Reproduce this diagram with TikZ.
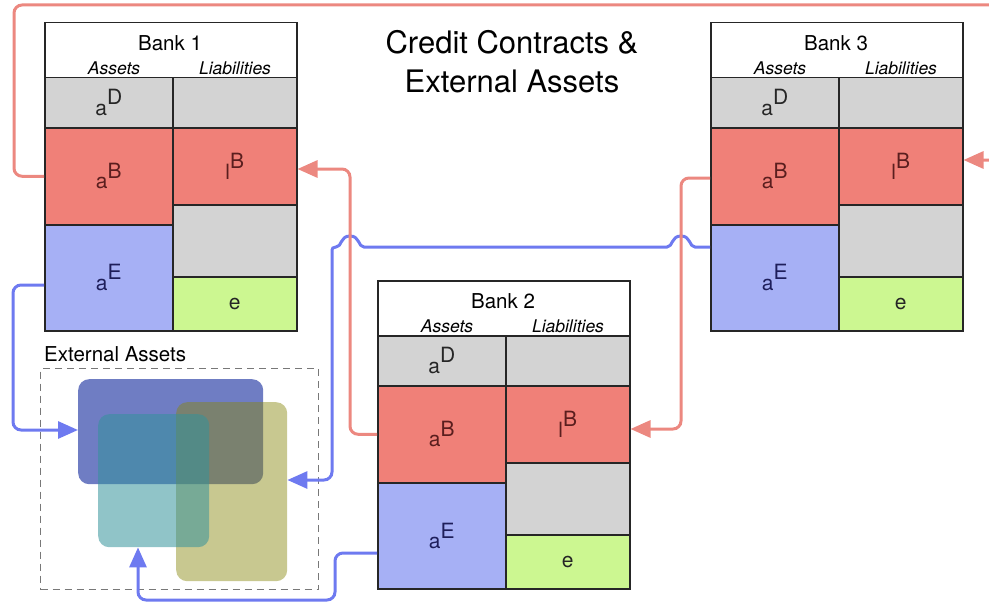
\documentclass[tikz,border=0pt]{standalone}
\usepackage{fontspec}
\setmainfont{TeX Gyre Heros}
\usetikzlibrary{arrows.meta}

\definecolor{cellgray}{RGB}{211,211,211}
\definecolor{cellred}{RGB}{240,128,120}
\definecolor{cellblue}{RGB}{166,176,245}
\definecolor{cellgreen}{RGB}{204,247,145}
\definecolor{txtred}{RGB}{90,30,30}
\definecolor{txtblue}{RGB}{30,30,90}
\definecolor{linkred}{RGB}{236,136,128}
\definecolor{linkblue}{RGB}{110,122,240}
\definecolor{extblue}{RGB}{50,70,170}
\definecolor{extolive}{RGB}{135,135,14}
\definecolor{extteal}{RGB}{53,147,155}
\definecolor{framegray}{RGB}{120,120,120}

% superscript letter set at full size, raised
\newcommand\hiletter[1]{\raisebox{0.5em}{#1}}

\tikzset{
  cell/.style={draw=black!85, line width=1.5pt, anchor=north west, inner sep=0pt,
    font=\fontsize{21}{21}\selectfont},
  headtxt/.style={inner sep=0pt, font=\fontsize{20.5}{20.5}\selectfont},
  coltxt/.style={inner sep=0pt, font=\fontsize{17.5}{17.5}\selectfont\itshape},
  extbox/.style={anchor=north west, inner sep=0pt, rounded corners=11pt},
  link/.style={line width=3pt, rounded corners=8pt,
    -{Triangle[length=20pt,width=17pt]}},
}

% one balance sheet: #1 name prefix, #2/#3 top-left corner, #4 bank number
\newcommand\drawbank[4]{%
  \begin{scope}[shift={(#2,#3)}]
    \node[cell, fill=white, minimum width=252pt, minimum height=55pt] (#1head) at (0,0) {};
    \node[headtxt] (#1name) at (126,21) {Bank #4};
    \node[coltxt] (#1as) at (70,46) {Assets};
    \node[coltxt] (#1li) at (191,46) {Liabilities};
    \node[cell, fill=cellgray, minimum width=128pt, minimum height=50pt, text=black!85]
      (#1aD) at (0,55) {a\hiletter{D}};
    \node[cell, fill=cellred, minimum width=128pt, minimum height=97pt, text=txtred]
      (#1aB) at (0,105) {a\hiletter{B}};
    \node[cell, fill=cellblue, minimum width=128pt, minimum height=106pt, text=txtblue]
      (#1aE) at (0,202) {a\hiletter{E}};
    \node[cell, fill=cellgray, minimum width=124pt, minimum height=50pt] (#1lD) at (128,55) {};
    \node[cell, fill=cellred, minimum width=124pt, minimum height=77pt, text=txtred]
      (#1lB) at (128,105) {l\hiletter{B}};
    \node[cell, fill=cellgray, minimum width=124pt, minimum height=72pt] (#1lG) at (128,182) {};
    \node[cell, fill=cellgreen, minimum width=124pt, minimum height=54pt, text=black!85]
      (#1e) at (128,254) {e};
  \end{scope}%
}

\begin{document}
\begin{tikzpicture}[x=1pt, y=-1pt]
  \useasboundingbox (0,0) rectangle (989,602);

  % title
  \node[align=center, inner sep=0pt, font=\fontsize{31}{39}\selectfont] (title)
    at (512,62) {Credit Contracts \&\\External Assets};

  % balance sheets
  \drawbank{b1}{44}{22}{1}
  \drawbank{b2}{377}{280}{2}
  \drawbank{b3}{710}{22}{3}

  % external assets pool
  \node[anchor=west, inner sep=0pt, font=\fontsize{20.5}{20.5}\selectfont] (extlabel)
    at (44,354) {External Assets};
  \node[draw=framegray, line width=1.3pt, dash pattern=on 7pt off 5pt, anchor=north west,
    inner sep=0pt, minimum width=278pt, minimum height=221pt] (extframe) at (40,368) {};
  \node[extbox, fill=extblue, fill opacity=0.7, minimum width=185pt, minimum height=105pt]
    (extA) at (78,379) {};
  \node[extbox, fill=extolive, fill opacity=0.46, minimum width=111pt, minimum height=179pt]
    (extC) at (176,402) {};
  \node[extbox, fill=extteal, fill opacity=0.55, minimum width=111pt, minimum height=133pt]
    (extB) at (98,414) {};

  % external asset holdings (the long one hops over two credit lines)
  \draw[link, linkblue] (b1aE.west |- 0,285) -| (13,430) -- (extA.west |- 0,430);
  \draw[link, linkblue, rounded corners=0pt] (b3aE.west |- 0,247) -- (695,247)
    .. controls (689,247) and (691,236) .. (681,236)
    .. controls (671,236) and (673,247) .. (667,247) -- (364,247)
    .. controls (358,247) and (360,236) .. (350,236)
    .. controls (340,236) and (342,247) .. (336,247)
    .. controls (333,247) and (332,248) .. (332,252)
    [rounded corners=8pt] |- (extC.east |- 0,480);
  \draw[link, linkblue] (b2aE.west |- 0,553) -| (335,600) -| (extB.south -| 138,0);

  % interbank credit contracts
  \draw[link, linkred] (b1aB.west) -| (14,5) -| (1000,160) -- (b3lB.east |- 0,160);
  \draw[link, linkred] (b2aB.west) -| (350,169) -- (b1lB.east |- 0,169);
  \draw[link, linkred] (b3aB.west |- 0,178) -| (681,429) -- (b2lB.east |- 0,429);
\end{tikzpicture}
\end{document}
